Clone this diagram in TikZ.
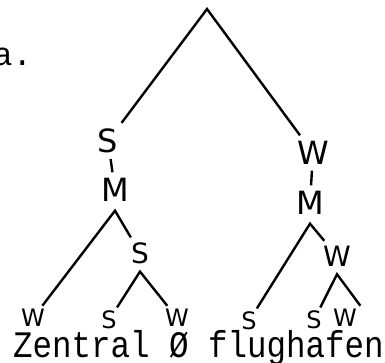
\documentclass[tikz,border=0pt]{standalone}
\usepackage{fontspec}
\usepackage{graphicx}
\setmainfont{DejaVu Sans}
\newfontfamily\typewriter{Liberation Mono}

\begin{document}
\begin{tikzpicture}[x=1pt, y=-1pt, line width=2.4pt,
    big/.style={inner sep=2pt, outer sep=4pt, font=\fontsize{32}{32}\selectfont},
    mid/.style={inner sep=2pt, outer sep=3pt, font=\fontsize{28}{28}\selectfont},
    leaf/.style={inner sep=0.5pt, outer sep=3pt, font=\fontsize{24}{24}\selectfont},
    words/.style={inner sep=0pt, anchor=base west, font=\typewriter\fontsize{32.5}{32.5}\selectfont}]
    \useasboundingbox (0,0) rectangle (385,362);

    \node[words] (label) at (-8, 65) {a.};

    \coordinate (root) at (207, 9);
    \node[big] (sL) at (108, 141) {S};
    \node[big] (wR) at (313, 153) {W};
    \node[big] (mL) at (115, 190) {M};
    \node[big] (mR) at (310, 203) {M};

    \node[mid] (sM) at (140, 253) {S};
    \node[mid] (wM) at (337, 256) {W};

    \node[leaf] (w1) at (33, 318) {W};
    \node[leaf] (s2) at (109, 320) {S};
    \node[leaf] (w3) at (177, 318) {W};
    \node[leaf] (s4) at (249, 321) {S};
    \node[leaf] (s5) at (314, 320) {S};
    \node[leaf] (w6) at (345, 318) {W};

    \draw (sL) -- (root) -- (wR);
    \draw (sL) -- (mL);
    \draw (wR) -- (mR);

    \draw (w1) -- ([yshift=-3pt]mL.south) -- (sM);
    \draw (s2) -- ([yshift=-3pt]sM.south) -- (w3);
    \draw (s4) -- ([yshift=-3pt]mR.south) -- (wM);
    \draw (s5) -- ([yshift=-3pt]wM.south) -- (w6.north east);

    \node[words] (gloss) at (12, 357) {\scalebox{1}[1.15]{Zentral Ø flughafen}};
\end{tikzpicture}
\end{document}
